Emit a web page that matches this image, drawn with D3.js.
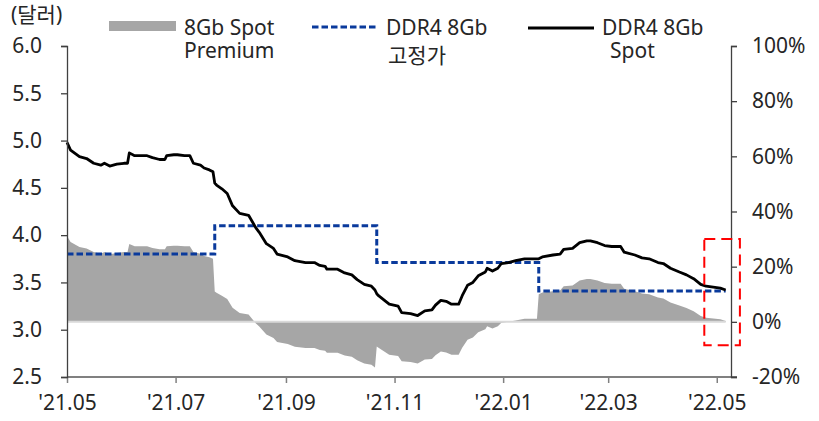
<!DOCTYPE html>
<html>
<head>
<meta charset="utf-8">
<script src="https://cdn.jsdelivr.net/npm/d3@7"></script>
<style>
  body { margin: 0; background: #fff; }
  svg text { font-family: "Noto Sans", "Noto Sans CJK KR", sans-serif; fill: #262626; }
</style>
</head>
<body>
<svg id="chart" width="819" height="421"></svg>
<script>
// DDR4 8Gb spot vs fixed price, and the spot premium (%)
const dates = [
  '2021-05-01','2021-05-03','2021-05-08','2021-05-12','2021-05-16','2021-05-20','2021-05-22','2021-05-25','2021-05-29',
  '2021-06-02','2021-06-04','2021-06-05','2021-06-08','2021-06-11','2021-06-15','2021-06-18','2021-06-22','2021-06-25',
  '2021-06-26','2021-06-30','2021-07-02','2021-07-06','2021-07-09','2021-07-11','2021-07-15','2021-07-17','2021-07-20',
  '2021-07-22','2021-07-23','2021-07-24','2021-07-27','2021-07-30','2021-08-02','2021-08-06','2021-08-11','2021-08-15',
  '2021-08-17','2021-08-21','2021-08-25','2021-08-27','2021-09-02','2021-09-06','2021-09-12','2021-09-17','2021-09-20',
  '2021-09-23','2021-09-24','2021-09-30','2021-10-04','2021-10-08','2021-10-11','2021-10-15','2021-10-19','2021-10-21',
  '2021-10-22','2021-10-23','2021-10-29','2021-11-03','2021-11-05','2021-11-10','2021-11-14','2021-11-18','2021-11-22',
  '2021-11-24','2021-11-27','2021-11-30','2021-12-03','2021-12-07','2021-12-09','2021-12-12','2021-12-15','2021-12-18',
  '2021-12-22','2021-12-23','2021-12-26','2021-12-29','2021-12-31','2022-01-04','2022-01-08','2022-01-13','2022-01-20',
  '2022-01-21','2022-01-23','2022-01-29','2022-02-02','2022-02-04','2022-02-09','2022-02-13','2022-02-17','2022-02-19',
  '2022-02-23','2022-02-27','2022-03-03','2022-03-08','2022-03-10','2022-03-16','2022-03-20','2022-03-24','2022-03-29',
  '2022-04-01','2022-04-05','2022-04-10','2022-04-14','2022-04-18','2022-04-22','2022-04-25','2022-04-29','2022-05-03',
  '2022-05-06'
];
const spotPrice = [
  4.98,4.90,4.83,4.81,4.76,4.74,4.76,4.73,4.75,
  4.76,4.76,4.87,4.84,4.84,4.84,4.82,4.80,4.80,
  4.84,4.85,4.85,4.84,4.84,4.76,4.74,4.71,4.69,
  4.67,4.55,4.53,4.49,4.44,4.31,4.23,4.21,4.08,
  4.03,3.91,3.86,3.80,3.77,3.73,3.71,3.71,3.68,
  3.67,3.64,3.64,3.60,3.58,3.53,3.48,3.46,3.42,
  3.38,3.36,3.27,3.25,3.18,3.17,3.15,3.20,3.21,
  3.26,3.31,3.30,3.27,3.27,3.36,3.47,3.50,3.57,
  3.61,3.65,3.62,3.65,3.70,3.71,3.73,3.75,3.75,
  3.75,3.77,3.79,3.80,3.85,3.86,3.92,3.94,3.94,
  3.92,3.89,3.88,3.88,3.82,3.79,3.76,3.75,3.71,
  3.70,3.65,3.61,3.58,3.54,3.48,3.46,3.45,3.44,
  3.42
];
const premium = [
  31.1,28.9,27.1,26.6,25.3,24.7,25.3,24.5,25.0,
  25.3,25.3,28.2,27.4,27.4,27.4,26.8,26.3,26.3,
  27.4,27.6,27.6,27.4,27.4,25.3,24.7,23.9,23.4,
  22.9,11.0,10.5,9.5,8.3,5.1,3.2,2.7,-0.5,
  -1.7,-4.6,-5.9,-7.3,-8.0,-9.0,-9.5,-9.5,-10.2,
  -10.5,-11.2,-11.2,-12.2,-12.7,-13.9,-15.1,-15.6,-16.6,
  -8.9,-9.4,-11.9,-12.4,-14.3,-14.6,-15.1,-13.7,-13.5,
  -12.1,-10.8,-11.1,-11.9,-11.9,-9.4,-6.5,-5.7,-3.8,
  -2.7,-1.6,-2.4,-1.6,-0.3,0.0,0.5,1.1,1.1,
  10.0,10.6,11.1,11.4,12.9,13.2,15.0,15.5,15.5,
  15.0,14.1,13.8,13.8,12.0,11.1,10.3,10.0,8.8,
  8.5,7.0,5.9,5.0,3.8,2.1,1.5,1.2,0.9,
  0.3
];
// fixed (contract) price, changes as steps
const fixedDates = ['2021-05-01','2021-07-23','2021-10-22','2022-01-21','2022-05-06'];
const fixedPrice = [3.80, 4.10, 3.71, 3.41, 3.41];

const leftTicks = [2.5, 3.0, 3.5, 4.0, 4.5, 5.0, 5.5, 6.0];
const rightTicks = [-20, 0, 20, 40, 60, 80, 100];
const xTickDates = ['2021-05-01','2021-07-01','2021-09-01','2021-11-01','2022-01-01','2022-03-01','2022-05-01'];
// red highlight box (dates, premium range)
const boxDates = ['2022-04-24', '2022-05-14'];
const boxRange = [-8.5, 30];

const parse = d3.timeParse('%Y-%m-%d');
const svg = d3.select('#chart');
const fs = '21px';

const x = d3.scaleTime()
  .domain([parse('2021-05-01'), parse('2022-05-09')])
  .range([67, 731]);
const yL = d3.scaleLinear().domain([2.5, 6.0]).range([377, 46]);
const yR = d3.scaleLinear().domain([-20, 100]).range([377, 46]);

const data = dates.map((d, i) => ({ date: parse(d), spot: spotPrice[i], prem: premium[i] }));
const fixed = fixedDates.map((d, i) => ({ date: parse(d), v: fixedPrice[i] }));

// premium area
svg.append('path')
  .datum(data)
  .attr('fill', '#a6a6a6')
  .attr('d', d3.area()
    .x(d => x(d.date))
    .y0(yR(0))
    .y1(d => yR(d.prem)));

svg.append('line')
  .attr('x1', x(data[0].date)).attr('x2', x(data[data.length - 1].date))
  .attr('y1', yR(0)).attr('y2', yR(0))
  .attr('stroke', '#d9d9d9').attr('stroke-width', 2);

// fixed price (dashed step)
svg.append('path')
  .datum(fixed)
  .attr('fill', 'none')
  .attr('stroke', '#0a3a9c')
  .attr('stroke-width', 3)
  .attr('stroke-dasharray', '6.5,3')
  .attr('d', d3.line().curve(d3.curveStepAfter).x(d => x(d.date)).y(d => yL(d.v)));

// spot price
svg.append('path')
  .datum(data)
  .attr('fill', 'none')
  .attr('stroke', '#000')
  .attr('stroke-width', 2.8)
  .attr('stroke-linejoin', 'round')
  .attr('d', d3.line().x(d => x(d.date)).y(d => yL(d.spot)));

// axes
const fmtX = d3.timeFormat("'%y.%m");
const gx = svg.append('g')
  .attr('transform', 'translate(0,377)')
  .call(d3.axisBottom(x).tickValues(xTickDates.map(parse)).tickFormat(fmtX).tickSize(6).tickSizeOuter(0).tickPadding(12));
gx.select('.domain').remove();
gx.append('line').attr('x1', 67).attr('x2', 737).attr('stroke', '#808080').attr('stroke-width', 2);
gx.selectAll('.tick line').attr('stroke', '#808080').attr('stroke-width', 1.5);
gx.selectAll('text').style('font-size', fs);

const gl = svg.append('g')
  .attr('transform', 'translate(67,0)')
  .call(d3.axisLeft(yL).tickValues(leftTicks).tickFormat(d3.format('.1f')).tickSize(6).tickPadding(19));
gl.selectAll('.domain, .tick line').attr('stroke', '#404040').attr('stroke-width', 1.3);
gl.selectAll('text').style('font-size', fs);

const gr = svg.append('g')
  .attr('transform', 'translate(731,0)')
  .call(d3.axisRight(yR).tickValues(rightTicks).tickFormat(d => d + '%').tickSize(6).tickPadding(15));
gr.selectAll('.domain, .tick line').attr('stroke', '#404040').attr('stroke-width', 1.3);
gr.selectAll('text').style('font-size', fs);

// highlight box
svg.append('rect')
  .attr('x', x(parse(boxDates[0])))
  .attr('y', yR(boxRange[1]))
  .attr('width', x(parse(boxDates[1])) - x(parse(boxDates[0])))
  .attr('height', yR(boxRange[0]) - yR(boxRange[1]))
  .attr('fill', 'none')
  .attr('stroke', '#ff0000')
  .attr('stroke-width', 2)
  .attr('stroke-dasharray', '11,6');

// unit label
svg.append('text').attr('x', 11).attr('y', 22).style('font-size', fs).text('(달러)');

// legend, two-line labels as tspans
function legendText(x0, lines, dx2, dy2) {
  const t = lg.append('text').attr('x', x0).attr('y', 35).style('font-size', fs);
  t.append('tspan').attr('x', x0).text(lines[0]);
  t.append('tspan').attr('x', x0 + dx2).attr('dy', dy2).text(lines[1]);
}
const lg = svg.append('g');
lg.append('rect').attr('x', 109).attr('y', 21).attr('width', 67).attr('height', 10).attr('fill', '#a6a6a6');
legendText(184, ['8Gb Spot', 'Premium'], 0, 23);

lg.append('line').attr('x1', 312).attr('x2', 376).attr('y1', 27).attr('y2', 27)
  .attr('stroke', '#0a3a9c').attr('stroke-width', 3).attr('stroke-dasharray', '6.5,3');
legendText(386, ['DDR4 8Gb', '고정가'], 2, 28);

lg.append('line').attr('x1', 528).attr('x2', 594).attr('y1', 28).attr('y2', 28)
  .attr('stroke', '#000').attr('stroke-width', 2.8);
legendText(602, ['DDR4 8Gb', 'Spot'], 8, 23);
</script>
</body>
</html>
